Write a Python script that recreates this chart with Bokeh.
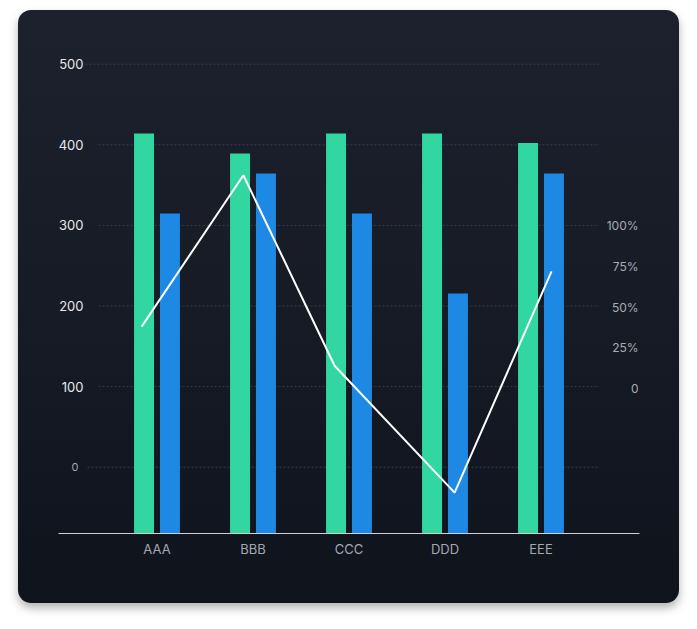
from bokeh.plotting import figure
from bokeh.models import (FactorRange, Range1d, LinearAxis, FixedTicker,
                          ColumnDataSource, CategoricalAxis)
from bokeh.transform import dodge
from bokeh.embed import file_html
from bokeh.resources import INLINE

# ---- data ----
categories = ["AAA", "BBB", "CCC", "DDD", "EEE"]
series_green = [500, 475, 500, 500, 488]
series_blue = [400, 450, 400, 300, 450]
line_x = [0.34, 1.40, 2.35, 3.60, 4.61]          # positions along category axis
line_pct = [38, 131, 14, -64, 72]                 # percent values
left_ticks = [100, 200, 300, 400, 500]
left_zero_tick = [0]
right_ticks = [0, 25, 50, 75, 100]
right_tick_labels = ["0", "25%", "50%", "75%", "100%"]
grid_values = [0, 100, 200, 300, 400, 500]

FONT = "Inter"

x_range = FactorRange(factors=categories, range_padding=0.526, range_padding_units="absolute")
p = figure(width=661, height=593, x_range=x_range,
           y_range=Range1d(-82.26, 541.8),
           output_backend="svg", toolbar_location=None,
           min_border_left=40, min_border_right=40, min_border_top=20, min_border_bottom=70)
p.margin = (10, 0, 0, 18)
p.styles = {
    "border-radius": "13px",
    "background": "linear-gradient(180deg, #1c212d 0%, #171b26 50%, #0f131c 100%)",
    "box-shadow": "0 5px 10px rgba(0,0,0,0.30)",
}
p.border_fill_color = None
p.background_fill_color = None
p.outline_line_color = None
p.xaxis.visible = False
p.yaxis.visible = False
p.xgrid.visible = False
p.ygrid.visible = False

p.extra_y_ranges = {
    "bars": Range1d(0, 628.75),
    "pct": Range1d(-89.07, 219.9),
}

# grid lines (dotted)
grid_x0 = [-0.224 if v == 0 else (-0.245 if v == 500 else -0.109) for v in grid_values]
p.segment(x0=grid_x0, x1=[5.104] * len(grid_values), y0=grid_values, y1=grid_values,
          line_color="#363c49", line_width=1, line_dash="2 2")

# bars
src = ColumnDataSource(dict(cat=categories, green=series_green, blue=series_blue))
p.vbar(x=dodge("cat", -0.135, range=p.x_range), top="green", width=0.208, bottom=0,
       source=src, y_range_name="bars", fill_color="#32d6a0", line_color=None)
p.vbar(x=dodge("cat", 0.135, range=p.x_range), top="blue", width=0.208, bottom=0,
       source=src, y_range_name="bars", fill_color="#1e88e5", line_color=None)

# line
p.line(x=line_x, y=line_pct, y_range_name="pct", line_color="#ffffff", line_width=2)

# x axis
xa = CategoricalAxis()
xa.axis_line_color = "#cdd0d5"
xa.axis_line_width = 1
xa.major_tick_line_color = None
xa.minor_tick_line_color = None
xa.major_tick_out = 0
xa.major_tick_in = 0
xa.major_label_standoff = 7
xa.major_label_text_color = "#a3a8b0"
xa.major_label_text_font = FONT
xa.major_label_text_font_size = "13px"
p.add_layout(xa, "below")

def style_axis(ax, color, size, standoff):
    ax.axis_line_color = None
    ax.major_tick_line_color = None
    ax.minor_tick_line_color = None
    ax.major_tick_out = 0
    ax.major_tick_in = 0
    ax.major_label_standoff = standoff
    ax.major_label_text_color = color
    ax.major_label_text_font = FONT
    ax.major_label_text_font_size = size

ya = LinearAxis(ticker=FixedTicker(ticks=left_ticks), fixed_location=-0.2135)
style_axis(ya, "#e6e8ec", "13px", 5)
p.add_layout(ya, "left")

ya0 = LinearAxis(ticker=FixedTicker(ticks=left_zero_tick), fixed_location=-0.266)
style_axis(ya0, "#a3a8b0", "11px", 5)
p.add_layout(ya0, "left")

# percent axis: drawn at the right edge, labels right-aligned
yr = LinearAxis(ticker=FixedTicker(ticks=right_ticks), y_range_name="pct", fixed_location=5.516,
                major_label_overrides={t: l for t, l in zip(right_ticks, right_tick_labels)})
style_axis(yr, "#a8acb3", "12px", 0)
p.add_layout(yr, "left")

open("out.html", "w").write(file_html(p, INLINE))
